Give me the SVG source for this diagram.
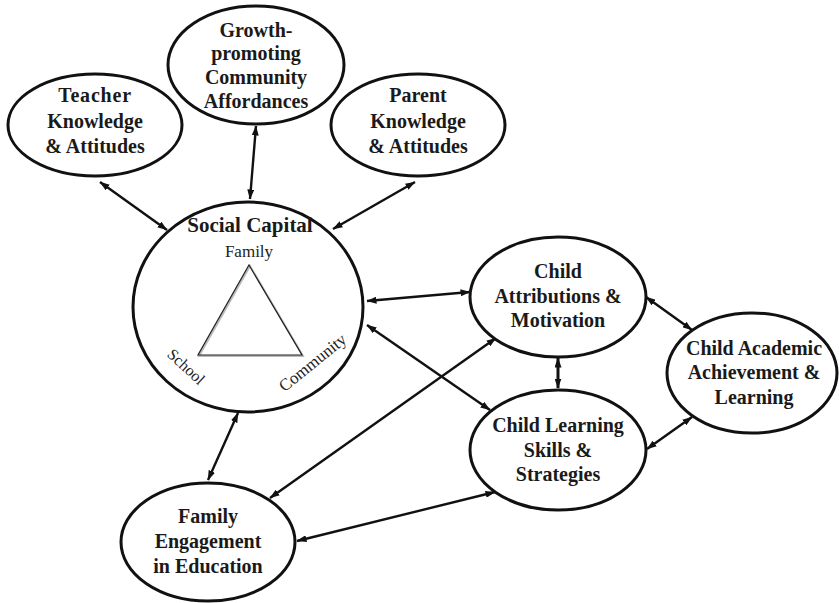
<svg xmlns="http://www.w3.org/2000/svg" width="839" height="603" viewBox="0 0 839 603">
  <style>
    .node { fill: #ffffff; stroke: #111111; stroke-width: 3; }
    .lbl { font-family: "Liberation Serif", "Times New Roman", serif; font-weight: bold; font-size: 20px; fill: #1a1a1a; text-anchor: middle; }
    .sub { font-family: "Liberation Serif", "Times New Roman", serif; font-size: 17px; fill: #222222; text-anchor: middle; }
    .link { fill: none; stroke: #111111; stroke-width: 2.4; marker-start: url(#tip); marker-end: url(#tip); }
  </style>
  <defs>
    <marker id="tip" viewBox="0 0 10 7" refX="9.5" refY="3.5" markerWidth="10" markerHeight="7" markerUnits="userSpaceOnUse" orient="auto-start-reverse">
      <path d="M0,0 L10,3.5 L0,7 Z" fill="#111111"/>
    </marker>
  </defs>
  <rect width="839" height="603" fill="#ffffff"/>

  <g id="connectors">
    <line class="link" x1="100" y1="182" x2="167" y2="230"/>
    <line class="link" x1="256" y1="126" x2="250" y2="199"/>
    <line class="link" x1="415" y1="182" x2="333" y2="229"/>
    <line class="link" x1="367" y1="301" x2="470" y2="292"/>
    <line class="link" x1="367" y1="325" x2="490" y2="410"/>
    <line class="link" x1="270" y1="498" x2="496" y2="338"/>
    <line class="link" x1="297" y1="541" x2="495" y2="492"/>
    <line class="link" x1="238" y1="413" x2="208" y2="480"/>
    <line class="link" x1="558" y1="358" x2="558" y2="388" style="stroke-width:3"/>
    <line class="link" x1="646" y1="297" x2="692" y2="330"/>
    <line class="link" x1="647" y1="449" x2="692" y2="417"/>
  </g>

  <g id="teacher">
    <ellipse class="node" cx="95" cy="125" rx="87" ry="51"/>
    <text class="lbl" x="95" y="102" style="letter-spacing:0.8px">Teacher</text>
    <text class="lbl" x="95" y="128">Knowledge</text>
    <text class="lbl" x="95" y="153">&amp; Attitudes</text>
  </g>

  <g id="growth">
    <ellipse class="node" cx="256" cy="65" rx="88" ry="59"/>
    <text class="lbl" x="256" y="37">Growth-</text>
    <text class="lbl" x="256" y="60">promoting</text>
    <text class="lbl" x="256" y="84">Community</text>
    <text class="lbl" x="256" y="108">Affordances</text>
  </g>

  <g id="parent">
    <ellipse class="node" cx="418" cy="125" rx="87" ry="51"/>
    <text class="lbl" x="418" y="102">Parent</text>
    <text class="lbl" x="418" y="128">Knowledge</text>
    <text class="lbl" x="418" y="153">&amp; Attitudes</text>
  </g>

  <g id="social-capital">
    <ellipse class="node" cx="248" cy="307" rx="115" ry="105"/>
    <text class="lbl" x="250" y="232" style="font-size:21px">Social Capital</text>
    <text class="sub" x="249" y="257">Family</text>
    <polygon points="250,266 303,356 199,356" fill="none" stroke="#bbbbbb" stroke-width="2"/>
    <polygon points="249,265 302,355 198,355" fill="none" stroke="#222222" stroke-width="1.2"/>
    <text class="sub" transform="translate(186,367) rotate(43)" y="5" style="font-size:16px">School</text>
    <text class="sub" transform="translate(313,363) rotate(-39)" y="5">Community</text>
  </g>

  <g id="attributions">
    <ellipse class="node" cx="558" cy="297" rx="88" ry="60"/>
    <text class="lbl" x="558" y="278">Child</text>
    <text class="lbl" x="558" y="303">Attributions &amp;</text>
    <text class="lbl" x="558" y="327">Motivation</text>
  </g>

  <g id="learning-skills">
    <ellipse class="node" cx="558" cy="450" rx="88" ry="60"/>
    <text class="lbl" x="558" y="432">Child Learning</text>
    <text class="lbl" x="558" y="457">Skills &amp;</text>
    <text class="lbl" x="558" y="481">Strategies</text>
  </g>

  <g id="achievement">
    <ellipse class="node" cx="752" cy="373" rx="85" ry="60"/>
    <text class="lbl" x="754" y="355">Child Academic</text>
    <text class="lbl" x="754" y="379">Achievement &amp;</text>
    <text class="lbl" x="754" y="404">Learning</text>
  </g>

  <g id="family-engagement">
    <ellipse class="node" cx="208" cy="542" rx="87" ry="59"/>
    <text class="lbl" x="208" y="523">Family</text>
    <text class="lbl" x="208" y="548">Engagement</text>
    <text class="lbl" x="208" y="573">in Education</text>
  </g>
</svg>
